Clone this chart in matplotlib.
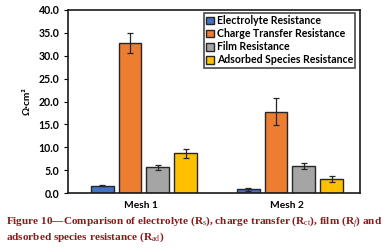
import numpy as np
import matplotlib.pyplot as plt

plt.rcParams['font.family'] = ['Lato', 'DejaVu Sans']
plt.rcParams['mathtext.fontset'] = 'custom'
plt.rcParams['mathtext.rm'] = 'Liberation Serif'
plt.rcParams['mathtext.it'] = 'Liberation Serif:italic'
plt.rcParams['mathtext.bf'] = 'Liberation Serif:bold'

# Data
meshes = ["Mesh 1", "Mesh 2"]
series = ["Electrolyte Resistance", "Charge Transfer Resistance",
          "Film Resistance", "Adsorbed Species Resistance"]
electrolyte = [1.6, 0.8]
charge_transfer = [32.7, 17.8]
film = [5.6, 5.9]
adsorbed = [8.7, 3.0]
electrolyte_err = [0.15, 0.35]
charge_transfer_err = [2.2, 2.9]
film_err = [0.6, 0.6]
adsorbed_err = [1.0, 0.7]

values = [electrolyte, charge_transfer, film, adsorbed]
errors = [electrolyte_err, charge_transfer_err, film_err, adsorbed_err]
colors = ["#4472C4", "#ED7D31", "#A5A5A5", "#FFC000"]

fig = plt.figure(figsize=(3.87, 2.52), dpi=100)
ax = fig.add_axes([68 / 387, 1 - 193 / 252, 292 / 387, 183 / 252])

x = np.arange(len(meshes))
width = 0.155
pitch = 0.19
for i in range(4):
    ax.bar(x + (i - 1.5) * pitch + 0.02, values[i], width, yerr=errors[i],
           color=colors[i], edgecolor="#262626", linewidth=1.0,
           error_kw=dict(ecolor="#262626", elinewidth=0.9, capsize=2, capthick=0.9),
           label=series[i])

ax.set_xlim(-0.5, 1.5)
ax.set_ylim(0, 40)
ax.set_yticks(np.arange(0, 41, 5))
ax.set_yticklabels([f"{v:.1f}" for v in np.arange(0, 41, 5)], fontweight="bold", fontsize=7.6)
ax.set_xticks(x)
ax.set_xticklabels(meshes, fontweight="bold", fontsize=7.3)
ax.tick_params(axis="x", length=0, pad=6)
ax.tick_params(axis="y", length=3, width=0.8, pad=3)
ax.set_ylabel("Ω·cm²", fontweight="bold", fontsize=7.3, labelpad=5)
for s in ax.spines.values():
    s.set_linewidth(1.2)
    s.set_color("#1a1a1a")

leg = ax.legend(loc="upper right", bbox_to_anchor=(0.99, 0.995),
                prop=dict(weight="bold", size=7.6), frameon=True, fancybox=False,
                handlelength=0.75, handleheight=0.75, handletextpad=0.25,
                labelspacing=0.2, borderpad=0.2, borderaxespad=0.2)
leg.get_frame().set_edgecolor("#1a1a1a")
leg.get_frame().set_linewidth(1.2)

cap_color = "#8B1A1A"
fig.text(6 / 387, 1 - 222 / 252,
         r"Figure 10—Comparison of electrolyte (R$_\mathrm{s}$), charge transfer (R$_\mathrm{ct}$), film (R$_\mathit{f}$) and",
         family="Liberation Serif", fontweight="bold", fontsize=8.1, color=cap_color, va="center")
fig.text(6 / 387, 1 - 237 / 252,
         r"adsorbed species resistance (R$_\mathrm{ad}$)",
         family="Liberation Serif", fontweight="bold", fontsize=8.1, color=cap_color, va="center")

fig.savefig("out.png", dpi=100)
